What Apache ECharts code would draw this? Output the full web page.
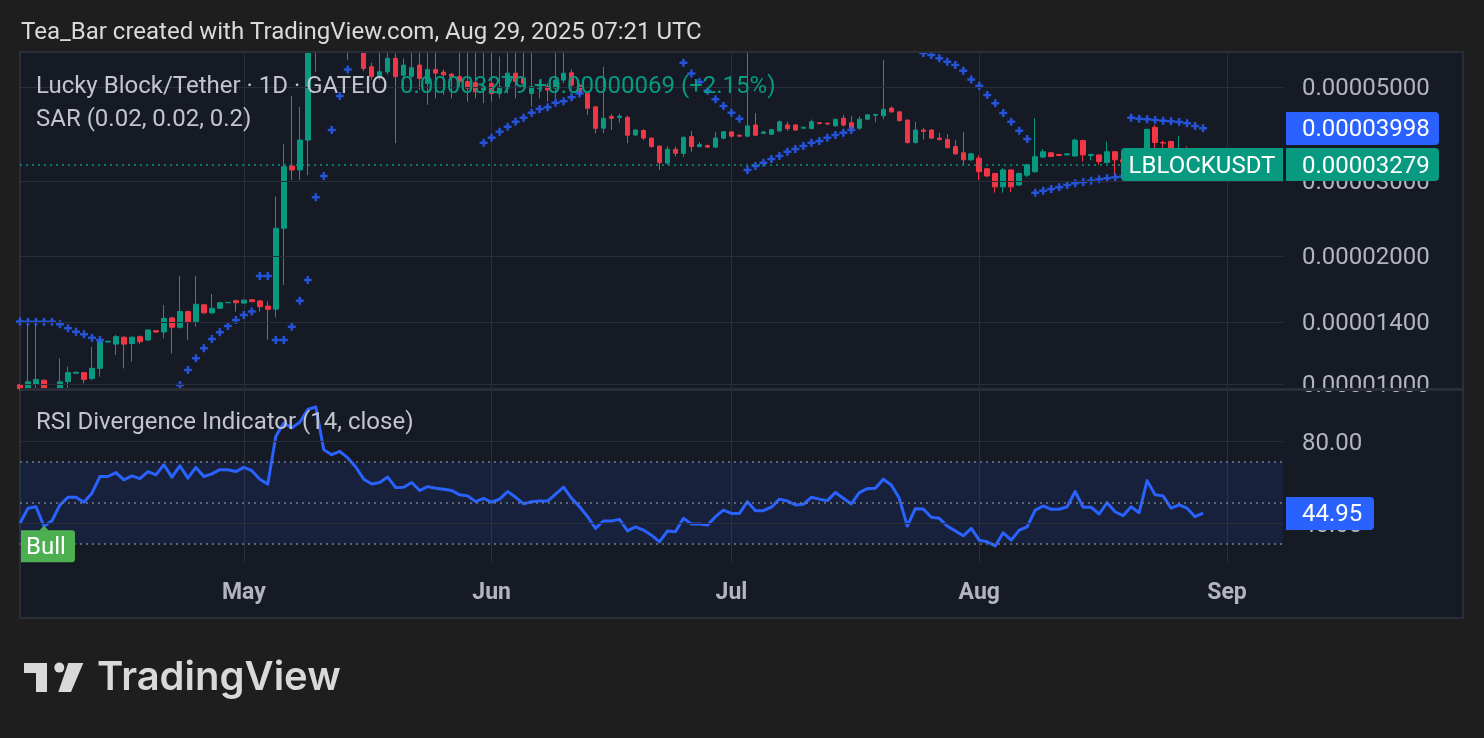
<!DOCTYPE html>
<html>
<head>
<meta charset="utf-8">
<title>Lucky Block/Tether · 1D · GATEIO</title>
<script src="https://cdn.jsdelivr.net/npm/echarts@6.0.0/dist/echarts.min.js"></script>
<style>
html,body{margin:0;padding:0;background:#1e1e1e;overflow:hidden;}
#chart{width:1484px;height:738px;}
</style>
</head>
<body>
<div id="chart"></div>
<script>
// ---------- data ----------
// daily bars, first category = 2025-04-03, axis runs to 2025-09-08
const firstDay = '2025-04-03';
const dayCount = 159;
const monthNames = ['Jan','Feb','Mar','Apr','May','Jun','Jul','Aug','Sep','Oct','Nov','Dec'];

// prices in units of 1e-5 USDT (0.00001 = 1)
const open = [
 0.995,0.970,1.000,1.020,0.970,0.970,1.012,1.060,1.063,1.030,
 1.088,1.255,1.241,1.288,1.245,1.292,1.269,1.335,1.325,1.430,
 1.360,1.480,1.400,1.535,1.470,1.507,1.553,1.570,1.550,1.578,
 1.568,1.525,1.500,2.325,3.260,3.190,3.750,6.300,7.200,8.000,
 7.400,7.000,6.600,6.300,5.580,5.280,5.430,5.840,5.330,5.300,
 5.630,5.100,5.500,5.420,5.360,5.290,5.150,5.120,4.920,5.100,
 4.830,4.970,5.390,5.250,4.830,4.960,5.010,4.970,5.190,5.400,
 5.050,4.830,4.490,4.000,4.260,4.240,4.240,3.855,3.950,3.790,
 3.630,3.310,3.567,3.490,3.820,3.620,3.640,3.610,3.790,3.920,
 3.850,3.830,4.070,3.890,3.870,3.940,4.070,4.070,4.000,3.990,
 4.120,4.110,4.050,4.220,4.120,4.000,4.200,4.290,4.280,4.460,
 4.370,4.180,3.700,3.960,3.960,3.790,3.760,3.620,3.500,3.370,
 3.400,3.210,3.130,2.910,3.190,2.940,3.100,3.160,3.420,3.500,
 3.470,3.460,3.440,3.740,3.450,3.460,3.320,3.520,3.370,3.330,
 3.300,3.320,4.020,3.700,3.720,3.480,3.580,3.450,3.210
];
const close = [
 0.975,1.012,1.025,0.975,0.960,1.012,1.063,1.065,1.025,1.088,
 1.257,1.260,1.292,1.241,1.288,1.257,1.340,1.325,1.427,1.360,
 1.480,1.400,1.540,1.470,1.507,1.553,1.556,1.553,1.575,1.563,
 1.520,1.498,2.325,3.246,3.190,3.750,6.500,7.200,8.000,7.400,
 7.000,6.600,6.300,5.530,5.290,5.430,5.840,5.290,5.630,5.550,
 5.240,5.500,5.390,5.340,5.290,5.150,4.970,4.870,5.010,4.830,
 5.000,5.390,5.150,5.100,5.010,5.000,4.920,5.190,5.390,5.050,
 4.850,4.455,3.997,4.220,4.220,4.270,3.850,3.960,3.790,3.620,
 3.317,3.567,3.490,3.807,3.620,3.660,3.610,3.790,3.924,3.830,
 3.830,4.050,3.850,3.920,3.970,4.140,3.990,3.960,4.020,4.140,
 4.100,4.090,4.197,4.070,4.000,4.200,4.300,4.310,4.430,4.370,
 4.165,3.700,3.960,3.930,3.790,3.760,3.600,3.480,3.370,3.480,
 3.160,3.087,2.910,3.190,2.910,3.130,3.280,3.427,3.520,3.430,
 3.450,3.480,3.750,3.460,3.470,3.340,3.520,3.370,3.330,3.300,
 3.320,3.975,3.700,3.690,3.480,3.580,3.450,3.210,3.279
];
const low = [
 0.966,0.966,0.970,0.966,0.940,0.966,0.980,1.055,1.003,1.020,
 1.040,1.250,1.170,1.088,1.128,1.240,1.260,1.320,1.280,1.180,
 1.350,1.270,1.364,1.460,1.460,1.500,1.550,1.480,1.545,1.555,
 1.480,1.270,1.435,1.710,3.020,3.020,3.100,5.430,6.500,6.600,
 6.300,5.790,6.100,5.450,5.200,5.200,5.350,3.685,5.010,5.250,
 4.920,4.540,4.700,4.790,4.700,5.000,4.620,4.700,4.580,4.620,
 4.700,4.830,4.700,5.000,4.490,4.700,4.620,4.700,5.100,4.950,
 4.750,4.300,3.890,3.890,3.960,4.120,3.685,3.830,3.750,3.600,
 3.190,3.280,3.430,3.420,3.520,3.600,3.590,3.590,3.760,3.800,
 3.810,3.810,3.830,3.870,3.860,3.930,3.940,3.950,3.990,3.980,
 4.090,4.080,4.040,4.030,3.990,3.960,4.190,4.130,4.200,4.350,
 4.150,3.680,3.680,3.760,3.770,3.740,3.580,3.460,3.280,3.350,
 3.020,3.070,2.820,2.820,2.830,2.920,3.070,3.140,3.400,3.420,
 3.440,3.450,3.430,3.340,3.360,3.280,3.300,3.090,3.050,3.220,
 3.250,3.300,3.550,3.600,3.400,3.400,3.420,3.180,3.190
];
const high = [
 1.000,1.400,1.400,1.025,0.970,1.149,1.098,1.070,1.068,1.223,
 1.273,1.265,1.304,1.295,1.295,1.300,1.345,1.340,1.534,1.440,
 1.795,1.490,1.795,1.540,1.628,1.560,1.560,1.580,1.580,1.585,
 1.575,1.565,2.760,3.665,4.760,4.490,7.000,7.600,8.800,8.500,
 7.900,7.300,6.900,6.500,5.700,6.200,6.100,6.000,5.840,6.200,
 6.300,6.200,6.200,5.500,5.400,6.200,6.200,6.300,6.200,6.200,
 5.900,6.200,6.200,6.100,6.200,5.190,5.100,6.100,6.200,5.500,
 5.100,4.860,4.500,5.580,4.320,4.330,4.280,3.980,3.980,3.800,
 3.640,3.630,3.620,3.820,3.940,3.710,3.660,3.920,3.940,3.930,
 3.860,6.300,4.340,3.940,3.980,4.170,4.140,4.080,4.030,4.190,
 4.130,4.120,4.210,4.300,4.270,4.260,4.310,4.320,5.790,4.500,
 4.380,4.190,4.140,4.000,3.980,3.900,3.870,3.750,3.920,3.500,
 3.450,3.220,3.140,3.220,3.200,3.140,3.300,4.220,3.570,3.510,
 3.480,3.490,3.780,3.760,3.480,3.470,3.720,3.540,3.420,3.400,
 3.380,3.980,4.070,3.740,3.740,3.840,3.620,3.470,3.300
];
// Parabolic SAR (0.02, 0.02, 0.2), same units
const sar = [
 1.402,1.401,1.400,1.400,1.400,1.382,1.352,1.327,1.309,1.285,
 1.269,0.900,0.905,0.912,0.920,0.928,0.936,0.945,0.955,0.966,
 0.994,1.078,1.149,1.213,1.276,1.323,1.369,1.414,1.453,1.480,
 1.795,1.795,1.269,1.269,1.364,1.570,1.757,2.750,3.087,3.960,
 4.760,5.500,8.800,8.700,8.550,8.400,8.200,8.000,7.800,7.600,
 7.400,7.200,7.000,6.850,6.700,6.550,6.400,6.300,3.697,3.800,
 3.924,4.030,4.140,4.230,4.350,4.440,4.480,4.590,4.630,4.730,
 4.830,6.350,6.340,6.320,6.300,6.280,6.260,6.230,6.200,6.160,
 6.120,6.080,6.020,5.700,5.380,5.140,4.900,4.680,4.510,4.350,
 4.210,3.189,3.258,3.317,3.385,3.440,3.520,3.573,3.630,3.697,
 3.730,3.800,3.855,3.900,3.960,6.300,6.270,6.240,6.210,6.180,
 6.150,6.100,6.060,6.010,5.950,5.840,5.735,5.630,5.460,5.210,
 5.035,4.790,4.580,4.340,4.140,3.945,3.770,2.820,2.850,2.877,
 2.903,2.940,2.967,2.988,3.009,3.032,3.048,3.065,3.080,4.230,
 4.210,4.197,4.180,4.165,4.152,4.136,4.107,4.050,3.998
];
// RSI (14, close)
const rsi = [
 40,47.3,48,38.6,41.2,48.9,52.6,52.6,50.2,54.6,
 62.7,62.7,64.6,61.1,63,61.7,65.1,63.5,68.4,62.4,
 67.9,61.9,67.1,62.7,64,66,66,65.1,67.1,65.5,
 61.4,59,82.2,88.7,86.3,89,95.2,96.5,75.7,73.3,
 74.9,71.7,67.3,61.4,59.1,59.8,62.4,57.3,57.5,59.8,
 55.9,57.8,57,56.5,55.9,53.8,53.3,50.5,52.1,50.2,
 51.7,55.4,52.6,49.4,50.5,50.8,50.8,54.2,57.5,52.1,
 48,43.2,37.5,41.1,41.1,41.9,36.3,38.3,36.7,34.2,
 31,36.3,35.9,42.4,39.6,39.6,39.1,43.2,46.4,44.8,
 44.8,50.5,46.1,46.1,47.8,51.7,50.8,48.9,49.2,52.6,
 51.7,51,54.9,52.1,49.4,54.9,56.8,57,61.4,58.6,
 52.1,38.6,47.1,46.9,42.9,42.4,38.6,36.3,33.9,37.5,
 31.8,31,29,35.4,31.8,36.7,38.3,46.4,48.4,46.8,
 46.8,48,55.4,47.8,47.8,44.5,50,45.6,43.7,48,
 45.1,60.7,53.8,53.3,47.3,48.9,47.3,43.2,44.95
];
const bullIndex = 3;

// tick labels
const priceTicks = [5, 3, 2, 1.4, 1];
const priceTickLabels = ['0.00005000','0.00003000','0.00002000','0.00001400','0.00001000'];
const rsiTicks = [80, 40];
const rsiTickLabels = ['80.00','40.00'];
const rsiBands = [70, 50, 30];

// texts
const titleText = 'Tea_Bar created with TradingView.com, Aug 29, 2025 07:21 UTC';
const legendSymbol = 'Lucky Block/Tether · 1D · GATEIO';
const legendValue = '0.00003279 +0.00000069 (+2.15%)';
const legendSar = 'SAR (0.02, 0.02, 0.2)';
const legendRsi = 'RSI Divergence Indicator (14, close)';
const tickerName = 'LBLOCKUSDT';
const lastPriceLabel = '0.00003279';
const lastSarLabel = '0.00003998';
const lastRsiLabel = '44.95';

// ---------- build ----------
const dates = [];
(function(){
  const t0 = Date.parse(firstDay + 'T00:00:00Z');
  for (let i = 0; i < dayCount; i++) dates.push(new Date(t0 + i * 86400000).toISOString().slice(0, 10));
})();
const isMonthStart = (idx, val) => typeof val === 'string' && val.slice(8, 10) === '01';
const candleData = open.map((o, i) => [o, close[i], low[i], high[i]]);

const C_GRID = '#2a2e39';
const C_TEXT = '#b2b5be';
const C_UP = '#089981';
const C_DOWN = '#f23645';
const C_BLUE = '#2962ff';
const FONT = 'Roboto, sans-serif';
const FS = 24;

const G_LEFT = 20, G_W = 1263;

const chart = echarts.init(document.getElementById('chart'), null, {renderer: 'canvas'});

const plusPath = 'path://M2.75,0L5.25,0L5.25,2.75L8,2.75L8,5.25L5.25,5.25L5.25,8L2.75,8L2.75,5.25L0,5.25L0,2.75L2.75,2.75Z';

const option = {
  animation: false,
  backgroundColor: '#1e1e1e',
  grid: [
    {left: G_LEFT, width: G_W, top: 53, height: 335},
    {left: G_LEFT, width: G_W, top: 391, height: 171}
  ],
  xAxis: [
    {
      type: 'category', gridIndex: 0, data: dates, boundaryGap: false,
      axisLine: {show: false}, axisTick: {show: false}, axisLabel: {show: false},
      splitLine: {show: true, interval: isMonthStart, lineStyle: {color: C_GRID, width: 1}}
    },
    {
      type: 'category', gridIndex: 1, data: dates, boundaryGap: false,
      axisLine: {show: false}, axisTick: {show: false},
      axisLabel: {
        show: true, interval: isMonthStart, margin: 20,
        formatter: v => monthNames[parseInt(v.slice(5, 7), 10) - 1],
        color: C_TEXT, fontSize: 23, fontWeight: 'bold', fontFamily: FONT
      },
      splitLine: {show: true, interval: isMonthStart, lineStyle: {color: C_GRID, width: 1}}
    }
  ],
  yAxis: [
    {
      type: 'log', logBase: 10, gridIndex: 0, min: 0.9782, max: 6.012,
      axisLine: {show: false}, axisTick: {show: false}, axisLabel: {show: false}, splitLine: {show: false}
    },
    {
      type: 'value', gridIndex: 1, min: 21.2, max: 104.2,
      axisLine: {show: false}, axisTick: {show: false}, axisLabel: {show: false}, splitLine: {show: false}
    }
  ],
  series: [
    {
      name: 'priceGrid', type: 'line', xAxisIndex: 0, yAxisIndex: 0, data: [], z: 1, silent: true,
      markLine: {
        silent: true, symbol: ['none', 'none'], animation: false,
        lineStyle: {color: C_GRID, type: 'solid', width: 1},
        label: {position: 'end', distance: 19, color: C_TEXT, fontSize: FS, fontFamily: FONT, offset: [0, 2]},
        emphasis: {disabled: true},
        data: priceTicks.map((v, i) => ({yAxis: v, label: {formatter: priceTickLabels[i]}}))
      }
    },
    {
      name: 'LBLOCKUSDT', type: 'candlestick', xAxisIndex: 0, yAxisIndex: 0, data: candleData,
      barWidth: 5, z: 3, clip: true,
      itemStyle: {color: C_UP, color0: C_DOWN, borderColor: C_UP, borderColor0: C_DOWN, borderWidth: 1},
      markLine: {
        silent: true, symbol: ['none', 'none'], animation: false,
        lineStyle: {color: C_UP, type: [2, 4], width: 1.5},
        label: {show: false},
        emphasis: {disabled: true},
        data: [{yAxis: close[close.length - 1]}]
      }
    },
    {
      name: 'SAR', type: 'scatter', xAxisIndex: 0, yAxisIndex: 0, data: sar, z: 4, clip: true,
      symbol: plusPath, symbolSize: 8, itemStyle: {color: C_BLUE}, silent: true
    },
    {
      name: 'rsiGrid', type: 'line', xAxisIndex: 1, yAxisIndex: 1, data: [], z: 1, silent: true,
      markArea: {
        silent: true,
        itemStyle: {color: 'rgba(41,98,255,0.10)'},
        data: [[{yAxis: rsiBands[2]}, {yAxis: rsiBands[0]}]]
      },
      markLine: {
        silent: true, symbol: ['none', 'none'], animation: false,
        emphasis: {disabled: true},
        label: {position: 'end', distance: 19, color: C_TEXT, fontSize: FS, fontFamily: FONT, offset: [0, 3]},
        data: rsiTicks.map((v, i) => ({
          yAxis: v, lineStyle: {color: C_GRID, type: 'solid', width: 1},
          label: {show: true, formatter: rsiTickLabels[i]}
        })).concat(rsiBands.map(v => ({
          yAxis: v, lineStyle: {color: '#787b86', type: [2, 4], width: 1.5},
          label: {show: false}
        })))
      }
    },
    {
      name: 'RSI', type: 'line', xAxisIndex: 1, yAxisIndex: 1, data: rsi, z: 3,
      symbol: 'none', clip: true, silent: true,
      lineStyle: {color: C_BLUE, width: 3, join: 'round'}
    }
  ]
};

chart.setOption(option);

// ---------- decorations & value tags ----------
const yClose = chart.convertToPixel({yAxisIndex: 0}, close[close.length - 1]);
const ySar = chart.convertToPixel({yAxisIndex: 0}, sar[sar.length - 1]);
const yRsi = chart.convertToPixel({yAxisIndex: 1}, rsi[rsi.length - 1]);
const bullPt = chart.convertToPixel({gridIndex: 1}, [bullIndex, rsi[bullIndex]]);

function textEl(str, x, y, color, font, align, z) {
  return {type: 'text', x: x, y: y, z: z || 60, silent: true,
    style: {text: str, fill: color, font: font, align: align || 'left', verticalAlign: 'middle'}};
}
function tag(x, yc, w, fill, r, str, textX, align) {
  return [
    {type: 'rect', z: 70, silent: true, shape: {x: x, y: Math.round(yc - 16.5), width: w, height: 33, r: r}, style: {fill: fill}},
    textEl(str, textX, yc + 2, '#ffffff', FS + 'px ' + FONT, align, 71)
  ];
}

const graphics = [
  // panel
  {type: 'rect', z: -10, silent: true, shape: {x: 20, y: 52, width: 1443, height: 566}, style: {fill: '#161a25', stroke: C_GRID, lineWidth: 2}},
  // mask above the price pane (clips tall candles)
  {type: 'rect', z: 50, silent: true, shape: {x: 0, y: 0, width: 1484, height: 51}, style: {fill: '#1e1e1e'}},
  {type: 'rect', z: 51, silent: true, shape: {x: 19, y: 51, width: 1445, height: 2}, style: {fill: C_GRID}},
  // pane separator
  {type: 'rect', z: 55, silent: true, shape: {x: 20, y: 388, width: 1443, height: 3}, style: {fill: C_GRID}},
  // title
  textEl(titleText, 21, 33, '#dadada', FS + 'px ' + FONT, 'left', 60),
  // legends
  textEl(legendSymbol, 36, 87, '#c3c5cc', FS + 'px ' + FONT, 'left', 60),
  textEl(legendValue, 400, 87, C_UP, FS + 'px ' + FONT, 'left', 60),
  textEl(legendSar, 36, 120, '#c3c5cc', FS + 'px ' + FONT, 'left', 60),
  textEl(legendRsi, 36, 423, '#c3c5cc', FS + 'px ' + FONT, 'left', 60),
  // TradingView logo
  {type: 'rect', z: 60, silent: true, shape: {x: 24, y: 663, width: 23, height: 10}, style: {fill: '#d9d9d9'}},
  {type: 'rect', z: 60, silent: true, shape: {x: 36, y: 663, width: 11, height: 29}, style: {fill: '#d9d9d9'}},
  {type: 'circle', z: 60, silent: true, shape: {cx: 59.3, cy: 667.6, r: 5}, style: {fill: '#d9d9d9'}},
  {type: 'polygon', z: 60, silent: true, shape: {points: [[68.3, 663], [83.3, 663], [71, 692], [58.3, 692]]}, style: {fill: '#d9d9d9'}},
  textEl('TradingView', 97, 678, '#d9d9d9', '600 40px Inter, ' + FONT, 'left', 60)
];

// value tags
graphics.push.apply(graphics, tag(1286, ySar, 153, C_BLUE, [0, 4, 4, 0], lastSarLabel, 1302, 'left'));
graphics.push.apply(graphics, tag(1121, yClose, 162, C_UP, [4, 0, 0, 4], tickerName, 1202, 'center'));
graphics.push.apply(graphics, tag(1286, yClose, 153, C_UP, [0, 4, 4, 0], lastPriceLabel, 1302, 'left'));
graphics.push.apply(graphics, tag(1286, yRsi, 88, C_BLUE, [0, 4, 4, 0], lastRsiLabel, 1302, 'left'));

// Bull divergence label
const bx = bullPt[0], by = bullPt[1];
const bLeft = Math.max(bx - 23, 20);
graphics.push(
  {type: 'polygon', z: 70, silent: true, shape: {points: [[bx - 5, by + 4.5], [bx + 5, by + 4.5], [bx, by - 0.5]]}, style: {fill: '#4caf50'}},
  {type: 'rect', z: 70, silent: true, shape: {x: bLeft, y: by + 4, width: 54, height: 32, r: [0, 3, 3, 0]}, style: {fill: '#4caf50'}},
  textEl('Bull', bLeft + 5, by + 22, '#ffffff', FS + 'px ' + FONT, 'left', 71)
);

chart.setOption({graphic: {elements: graphics}});
</script>
</body>
</html>
